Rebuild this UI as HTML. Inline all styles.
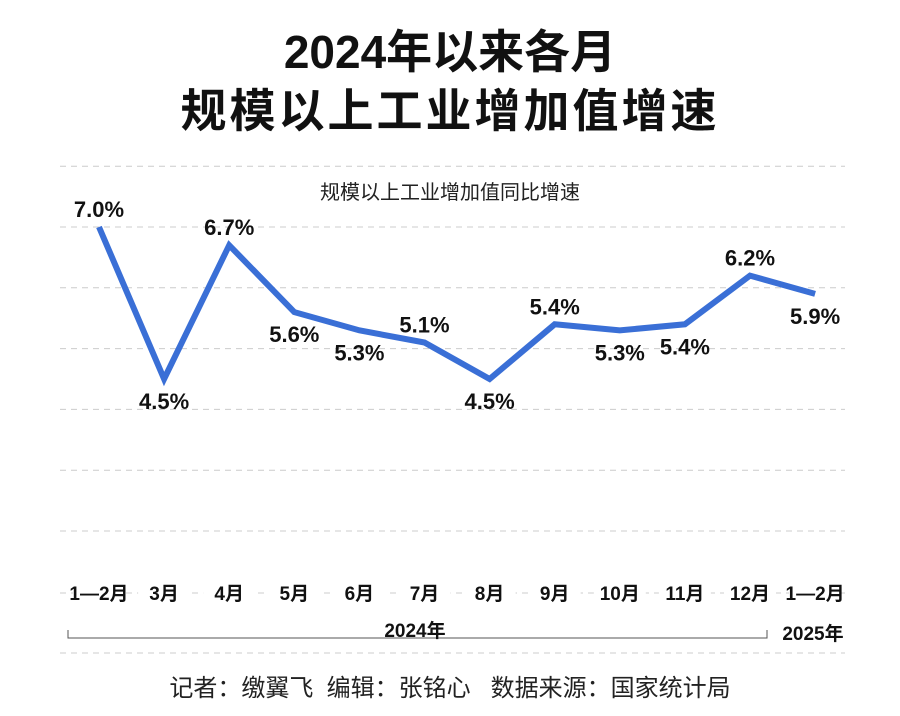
<!DOCTYPE html>
<html><head><meta charset="utf-8"><style>
body{margin:0;background:#fff;}
svg text{font-family:"Liberation Sans Narrow","Liberation Sans","Noto Sans CJK SC",sans-serif;}
.cjk{font-family:"Liberation Sans","Noto Sans CJK SC",sans-serif !important;}
</style></head><body>
<svg id="chart" width="900" height="711" viewBox="0 0 900 711">
<text class="cjk" x="450" y="68" text-anchor="middle" font-size="46" font-weight="bold" fill="#111">2024年以来各月</text>
<text class="cjk" x="450" y="127" text-anchor="middle" font-size="46" font-weight="bold" fill="#111" letter-spacing="3">规模以上工业增加值增速</text>
<text class="cjk" x="450" y="199" text-anchor="middle" font-size="20" fill="#222">规模以上工业增加值同比增速</text>
<g id="grid"></g>
<g id="xlabels"></g>
<path d="M68,630 V638 H767 V630" fill="none" stroke="#555" stroke-width="1"/>
<text x="415" y="637" text-anchor="middle" font-size="19" font-weight="bold" fill="#111">2024年</text>
<text x="813" y="640" text-anchor="middle" font-size="19" font-weight="bold" fill="#111">2025年</text>
<g id="series"></g>
<text class="cjk" x="450" y="696" text-anchor="middle" font-size="24" fill="#222" xml:space="preserve">记者：缴翼飞  编辑：张铭心   数据来源：国家统计局</text>
</svg>
<script>
const categories=["1—2月","3月","4月","5月","6月","7月","8月","9月","10月","11月","12月","1—2月"];
const values=[7.0,4.5,6.7,5.6,5.3,5.1,4.5,5.4,5.3,5.4,6.2,5.9];
const labelAbove=[true,false,true,false,false,true,false,true,false,false,true,false];
const gridTicks=[8,7,6,5,4,3,2];
const NS="http://www.w3.org/2000/svg";
const xs=i=>99+i*65.1;
const ys=v=>227-(v-7)*60.8;
function mk(t,a){const e=document.createElementNS(NS,t);for(const k in a)e.setAttribute(k,a[k]);return e;}
const grid=document.getElementById('grid');
gridTicks.forEach(v=>{const l=mk('line',{x1:60,x2:845,y1:ys(v),y2:ys(v),stroke:'#ccc','stroke-width':1,'stroke-dasharray':'6,5'});

grid.appendChild(l);});
[593,653].forEach(y=>{const l=mk('line',{x1:60,x2:845,y1:y,y2:y,stroke:'#ccc','stroke-width':1,'stroke-dasharray':'6,5'});

grid.appendChild(l);});
const xl=document.getElementById('xlabels');
categories.forEach((c,i)=>{const bg=mk('rect',{x:xs(i)-26,y:582,width:52,height:22,fill:'#fff'});xl.appendChild(bg);
const t=mk('text',{x:xs(i),y:600,'text-anchor':'middle','font-size':19,'font-weight':'bold',fill:'#111'});t.textContent=c;

xl.appendChild(t);});
const s=document.getElementById('series');
const p=mk('polyline',{points:values.map((v,i)=>xs(i)+','+ys(v)).join(' '),fill:'none',stroke:'#3a6fd6','stroke-width':6,'stroke-linejoin':'miter'});

s.appendChild(p);
values.forEach((v,i)=>{const y=labelAbove[i]?ys(v)-10:ys(v)+30;
const t=mk('text',{x:xs(i),y:y,'text-anchor':'middle','font-size':22,'font-weight':'bold',fill:'#111'});t.textContent=v.toFixed(1)+'%';

s.appendChild(t);});
</script>
</body></html>
